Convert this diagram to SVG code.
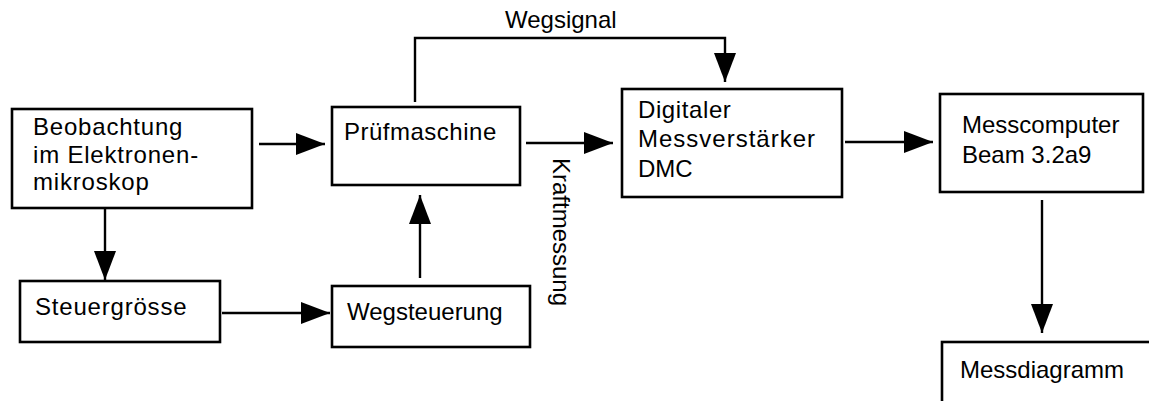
<svg xmlns="http://www.w3.org/2000/svg" width="1149" height="401" viewBox="0 0 1149 401">
<style>
.box{fill:#fff;stroke:#000;stroke-width:2.6}
.t{font-family:"Liberation Sans",Arial,sans-serif;font-size:24px;fill:#000}
.w{letter-spacing:0.8px}
.c{fill:none;stroke:#000;stroke-width:2.4}
</style>
<defs>
<marker id="ah" markerUnits="userSpaceOnUse" markerWidth="30" markerHeight="22" refX="29" refY="11" orient="auto">
<path d="M0,0 L29,11 L0,22 Z" fill="#000"/>
</marker>
</defs>
<rect width="1149" height="401" fill="#fff"/>
<g id="connectors">
<path class="c" d="M259,144 H325" marker-end="url(#ah)"/>
<path class="c" d="M526,143 H613" marker-end="url(#ah)"/>
<path class="c" d="M845,142 H933" marker-end="url(#ah)"/>
<path class="c" d="M415,102 V38 H725 V82" marker-end="url(#ah)"/>
<path class="c" d="M105,208 V280" marker-end="url(#ah)"/>
<path class="c" d="M222,313 H330" marker-end="url(#ah)"/>
<path class="c" d="M420,278 V195" marker-end="url(#ah)"/>
<path class="c" d="M1042,200 V333" marker-end="url(#ah)"/>
<text class="t" x="505" y="28">Wegsignal</text>
<text class="t" transform="translate(553,158) rotate(90)">Kraftmessung</text>
</g>
<g id="beobachtung">
<rect class="box" x="12" y="109" width="240" height="99"/>
<text class="t w" x="33" y="135">Beobachtung</text>
<text class="t w" x="33" y="163">im Elektronen-</text>
<text class="t w" x="33" y="190">mikroskop</text>
</g>
<g id="pruefmaschine">
<rect class="box" x="332" y="107" width="188" height="78"/>
<text class="t" x="344" y="140" style="letter-spacing:0.5px">Prüfmaschine</text>
</g>
<g id="dmc">
<rect class="box" x="622" y="89" width="220" height="108"/>
<text class="t" x="638" y="118" style="letter-spacing:0.6px">Digitaler</text>
<text class="t" x="638" y="147" style="letter-spacing:1px">Messverstärker</text>
<text class="t" x="638" y="177">DMC</text>
</g>
<g id="messcomputer">
<rect class="box" x="940" y="94" width="203" height="98"/>
<text class="t" x="962" y="133">Messcomputer</text>
<text class="t" x="962" y="163">Beam 3.2a9</text>
</g>
<g id="steuergroesse">
<rect class="box" x="20" y="281" width="200" height="61"/>
<text class="t w" x="35" y="315">Steuergrösse</text>
</g>
<g id="wegsteuerung">
<rect class="box" x="332" y="286" width="198" height="61"/>
<text class="t" x="347" y="320">Wegsteuerung</text>
</g>
<g id="messdiagramm">
<rect class="box" x="942" y="342" width="230" height="80"/>
<text class="t" x="960" y="378">Messdiagramm</text>
</g>
</svg>
